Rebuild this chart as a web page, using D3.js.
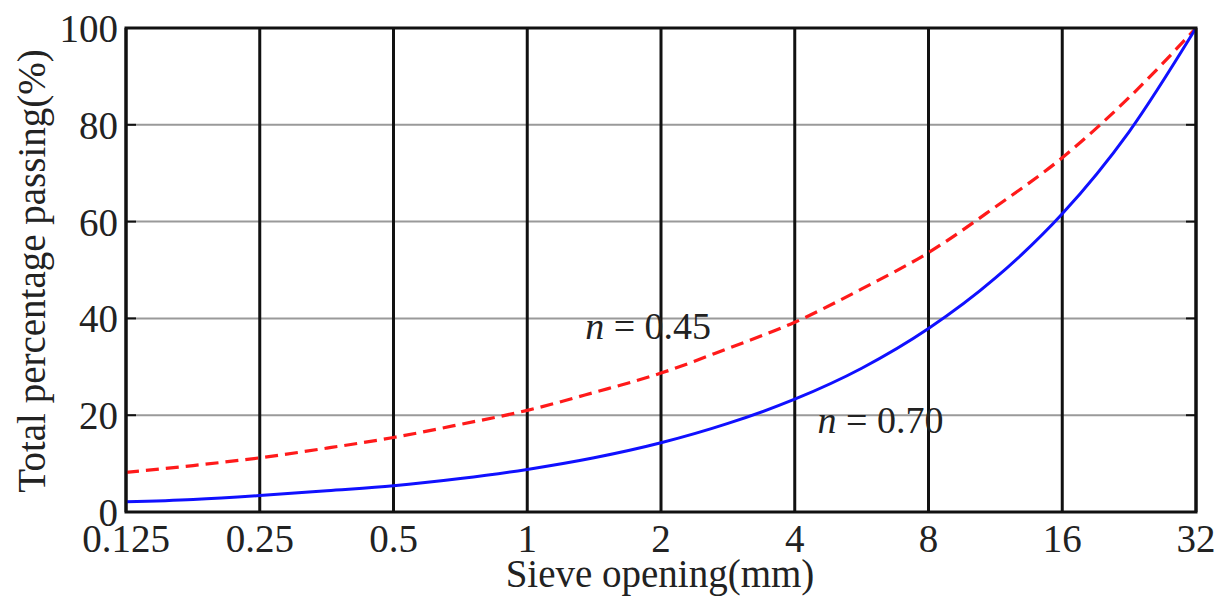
<!DOCTYPE html>
<html>
<head>
<meta charset="utf-8">
<script src="https://d3js.org/d3.v7.min.js"></script>
<style>
  body { margin: 0; background: #fff; }
  text { font-family: "Liberation Serif", "Times New Roman", serif; fill: #222; }
</style>
</head>
<body>
<script>
// sieve sizes (mm) and passing percentages
var sieves = [0.125, 0.177, 0.25, 0.354, 0.5, 0.707, 1, 1.414, 2, 2.83, 4, 5.66, 8, 11.3, 16, 22.6, 32];
var pass045 = [8.2, 9.6, 11.2, 13.2, 15.4, 18.1, 21.0, 24.7, 28.7, 33.8, 39.2, 46.1, 53.6, 63.0, 73.2, 85.6, 100];
var pass070 = [2.1, 2.6, 3.4, 4.4, 5.4, 6.9, 8.8, 11.2, 14.3, 18.3, 23.3, 29.7, 37.9, 48.3, 61.6, 78.5, 100];
var xTicks = [0.125, 0.25, 0.5, 1, 2, 4, 8, 16, 32];
var xTickLabels = ["0.125", "0.25", "0.5", "1", "2", "4", "8", "16", "32"];
var yTicks = [0, 20, 40, 60, 80, 100];

var W = 1219, H = 596;
var m = {left: 126, right: 23, top: 28, bottom: 84};
var iw = W - m.left - m.right, ih = H - m.top - m.bottom;

var svg = d3.select("body").append("svg").attr("width", W).attr("height", H);
var g = svg.append("g").attr("transform", "translate(" + m.left + "," + m.top + ")");

var x = d3.scaleLog().base(2).domain([0.125, 32]).range([0, iw]);
var y = d3.scaleLinear().domain([0, 100]).range([ih, 0]);

// horizontal grey grid
g.selectAll("line.hgrid").data(yTicks.slice(1, -1)).enter().append("line")
  .attr("x1", 0).attr("x2", iw)
  .attr("y1", d => y(d)).attr("y2", d => y(d))
  .attr("stroke", "#9a9a9a").attr("stroke-width", 2);

// vertical black grid
g.selectAll("line.vgrid").data(xTicks).enter().append("line")
  .attr("x1", d => x(d)).attr("x2", d => x(d))
  .attr("y1", 0).attr("y2", ih)
  .attr("stroke", "#111").attr("stroke-width", 3);

// small ticks on both sides
g.selectAll("line.rtick").data(yTicks).enter().append("line")
  .attr("x1", iw - 10).attr("x2", iw)
  .attr("y1", d => y(d)).attr("y2", d => y(d))
  .attr("stroke", "#111").attr("stroke-width", 2);
g.selectAll("line.ltick").data(yTicks).enter().append("line")
  .attr("x1", 0).attr("x2", 10)
  .attr("y1", d => y(d)).attr("y2", d => y(d))
  .attr("stroke", "#111").attr("stroke-width", 2);

// curves
var line = d3.line().x(d => x(d[0])).y(d => y(d[1])).curve(d3.curveMonotoneX);
g.append("path").datum(d3.zip(sieves, pass045))
  .attr("d", line).attr("fill", "none")
  .attr("stroke", "#ff1a1a").attr("stroke-width", 3.2).attr("stroke-dasharray", "13,7");
g.append("path").datum(d3.zip(sieves, pass070))
  .attr("d", line).attr("fill", "none")
  .attr("stroke", "#1010ff").attr("stroke-width", 3);

// frame
g.append("rect").attr("x", 0).attr("y", 0).attr("width", iw).attr("height", ih)
  .attr("fill", "none").attr("stroke", "#111").attr("stroke-width", 3);

// tick labels
g.selectAll("text.xl").data(xTicks).enter().append("text")
  .attr("x", d => x(d)).attr("y", ih + 40)
  .attr("text-anchor", "middle").style("font-size", "39px")
  .text((d, i) => xTickLabels[i]);
g.selectAll("text.yl").data(yTicks).enter().append("text")
  .attr("x", -8).attr("y", d => y(d) + 14)
  .attr("text-anchor", "end").style("font-size", "39px")
  .text(d => d);

// axis titles
svg.append("text").attr("x", 660).attr("y", 587)
  .attr("text-anchor", "middle").style("font-size", "39px").text("Sieve opening(mm)");
svg.append("text").attr("transform", "translate(45,271) rotate(-90)")
  .attr("text-anchor", "middle").style("font-size", "39px").text("Total percentage passing(%)");

// curve labels
var lab1 = g.append("text").attr("x", x(1.35)).attr("y", y(35.7)).style("font-size", "38px");
lab1.append("tspan").style("font-style", "italic").text("n");
lab1.append("tspan").text(" = 0.45");
var lab2 = g.append("text").attr("x", x(4.5)).attr("y", y(16.3)).style("font-size", "38px");
lab2.append("tspan").style("font-style", "italic").text("n");
lab2.append("tspan").text(" = 0.70");
</script>
</body>
</html>
